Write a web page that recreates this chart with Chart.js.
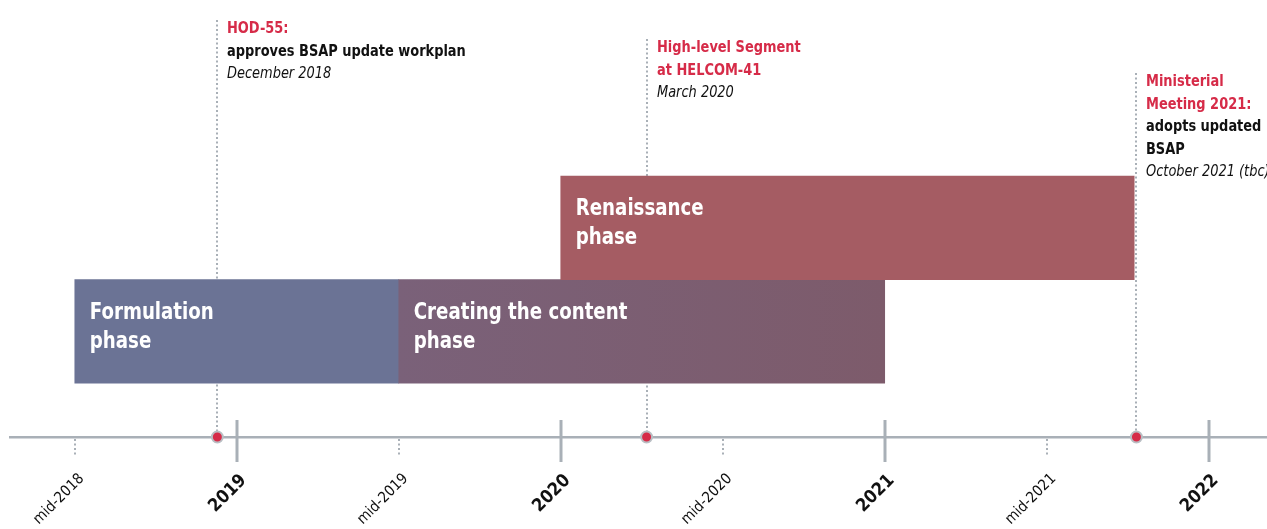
<!DOCTYPE html>
<html>
<head>
<meta charset="utf-8">
<script src="https://cdn.jsdelivr.net/npm/chart.js@4.4.1/dist/chart.umd.min.js"></script>
<style>
  html, body { margin: 0; padding: 0; background: #fff; }
  #wrap { width: 1267px; height: 529px; position: relative; }
</style>
</head>
<body>
<div id="wrap"><canvas id="timeline"></canvas></div>
<script>
// ---- dados ----
const phaseNames = [['Formulation', 'phase'], ['Creating the content', 'phase'], ['Renaissance', 'phase']];
const phaseStart = [2018.5, 2019.5, 2020];
const phaseEnd = [2019.5, 2021, 2021.77];
const phaseRow = [1, 1, 2];   // 1 = linha de baixo, 2 = linha de cima

const tickValues = [2018.5, 2019, 2019.5, 2020, 2020.5, 2021, 2021.5, 2022];
const tickLabels = ['mid-2018', '2019', 'mid-2019', '2020', 'mid-2020', '2021', 'mid-2021', '2022'];

const milestoneDates = [2018.94, 2020.265, 2021.777];
const milestoneTitles = [['HOD-55:'], ['High-level Segment', 'at HELCOM-41'], ['Ministerial', 'Meeting 2021:']];
const milestoneActions = [['approves BSAP update workplan'], [], ['adopts updated', 'BSAP']];
const milestoneWhen = ['December 2018', 'March 2020', 'October 2021 (tbc)'];

// ---- estilo ----
const FONT = '"DejaVu Sans Condensed", "Liberation Sans Narrow", Roboto, sans-serif';
const RED = '#d62b48';
const GREY = '#a9b0b7';
const noteBaseline = [33, 52, 86];   // linha de base do primeiro texto de cada marco

const isYear = i => Number.isInteger(tickValues[i]);

// texto um pouco comprimido na horizontal (fonte original é condensada)
function narrowText(ctx, text, x, y, squeeze) {
  ctx.save();
  ctx.translate(x, y);
  ctx.scale(squeeze, 1);
  ctx.fillText(text, 0, 0);
  ctx.restore();
}

const timelinePlugin = {
  id: 'timeline',
  beforeDatasetsDraw(chart) {
    const ctx = chart.ctx, x = chart.scales.x, axisY = chart.chartArea.bottom;
    ctx.save();
    ctx.strokeStyle = GREY;
    ctx.lineWidth = 2;
    ctx.setLineDash([2, 2.5]);
    milestoneDates.forEach((d, i) => {
      const px = Math.round(x.getPixelForValue(d));
      ctx.beginPath();
      ctx.moveTo(px, noteBaseline[i] - 13);
      ctx.lineTo(px, axisY);
      ctx.stroke();
    });
    ctx.restore();
  },
  afterDatasetsDraw(chart) {
    const ctx = chart.ctx, x = chart.scales.x, axisY = chart.chartArea.bottom;
    ctx.save();

    // nomes das fases dentro das barras
    const bars = chart.getDatasetMeta(0).data;
    ctx.fillStyle = '#fff';
    ctx.font = 'bold 23px ' + FONT;
    ctx.textBaseline = 'alphabetic';
    bars.forEach((bar, i) => {
      const p = bar.getProps(['x', 'y', 'base', 'height'], true);
      const left = Math.min(p.x, p.base) + 15;
      const top = p.y - p.height / 2;
      phaseNames[i].forEach((t, k) => narrowText(ctx, t, left, top + 39 + k * 29, 0.88));
    });

    // marcas do eixo
    tickValues.forEach((v, i) => {
      const px = Math.round(x.getPixelForValue(v));
      ctx.beginPath();
      ctx.strokeStyle = GREY;
      if (isYear(i)) {
        ctx.setLineDash([]);
        ctx.lineWidth = 3;
        ctx.moveTo(px, axisY - 17);
        ctx.lineTo(px, axisY + 25);
      } else {
        ctx.setLineDash([2, 2.5]);
        ctx.lineWidth = 2;
        ctx.moveTo(px, axisY + 2);
        ctx.lineTo(px, axisY + 19);
      }
      ctx.stroke();
    });
    ctx.setLineDash([]);

    // marcos
    milestoneDates.forEach((d, i) => {
      const px = x.getPixelForValue(d);
      ctx.beginPath();
      ctx.arc(px, axisY, 5.5, 0, Math.PI * 2);
      ctx.fillStyle = RED;
      ctx.fill();
      ctx.lineWidth = 2;
      ctx.strokeStyle = '#b9bec3';
      ctx.stroke();

      const tx = Math.round(px) + 10;
      let y = noteBaseline[i];
      ctx.textAlign = 'left';
      ctx.font = 'bold 16px ' + FONT;
      ctx.fillStyle = RED;
      milestoneTitles[i].forEach(t => { narrowText(ctx, t, tx, y, 0.9); y += 22.5; });
      ctx.fillStyle = '#111';
      milestoneActions[i].forEach(t => { narrowText(ctx, t, tx, y, 0.9); y += 22.5; });
      ctx.font = 'italic 16px ' + FONT;
      narrowText(ctx, milestoneWhen[i], tx, y, 0.9);
    });
    ctx.restore();
  }
};

const creatingGradient = (c) => {
  const chart = c.chart;
  if (!chart.chartArea) return '#7c5e73';
  const x = chart.scales.x;
  const g = chart.ctx.createLinearGradient(x.getPixelForValue(phaseStart[1]), 0, x.getPixelForValue(phaseEnd[1]), 0);
  g.addColorStop(0, '#7a6179');
  g.addColorStop(1, '#7d5b6b');
  return g;
};

new Chart(document.getElementById('timeline'), {
  type: 'bar',
  data: {
    datasets: [{
      data: phaseStart.map((s, i) => ({ x: [s, phaseEnd[i]], y: phaseRow[i] })),
      backgroundColor: c => c.dataIndex === 0 ? '#6b7395' : c.dataIndex === 1 ? creatingGradient(c) : '#a55c63',
      borderWidth: 0,
      barThickness: 103.5
    }]
  },
  options: {
    indexAxis: 'y',
    responsive: true,
    maintainAspectRatio: false,
    animation: false,
    layout: { padding: { left: 10, right: 0, top: 0, bottom: 0 } },
    plugins: { legend: { display: false }, tooltip: { enabled: false } },
    scales: {
      y: { type: 'linear', min: -0.02, max: 4.2, offset: false, display: false },
      x: {
        type: 'linear',
        min: 2018.3,
        max: 2022.18,
        afterBuildTicks: s => { s.ticks = tickValues.map(v => ({ value: v })); },
        afterFit: s => { s.height = 92; s.paddingLeft = 0; s.paddingRight = 0; },
        grid: { display: false, drawTicks: false },
        border: { display: true, color: GREY, width: 2.5 },
        ticks: {
          autoSkip: false,
          minRotation: 45,
          maxRotation: 45,
          padding: 33,
          labelOffset: 7,
          color: '#111',
          callback: (v, i) => tickLabels[i],
          font: c => isYear(c.index)
            ? { family: FONT, size: 18, weight: 'bold' }
            : { family: FONT, size: 15 }
        }
      }
    }
  },
  plugins: [timelinePlugin]
});
</script>
</body>
</html>
